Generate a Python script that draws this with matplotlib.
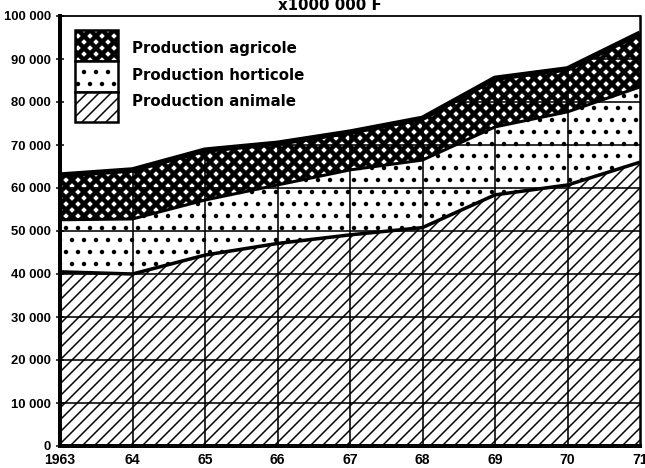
import numpy as np
import matplotlib
matplotlib.use('Agg')
import matplotlib.pyplot as plt
from matplotlib.patches import Rectangle

# values in x1000 000 F
years = [1963, 1964, 1965, 1966, 1967, 1968, 1969, 1970, 1971]
year_labels = ['1963', '64', '65', '66', '67', '68', '69', '70', '71']
animale = [40500, 40000, 44400, 47100, 49100, 50800, 58400, 60700, 66000]
horticole = [12100, 12800, 12800, 13600, 15100, 15700, 15800, 17000, 17500]
agricole = [10400, 11400, 11600, 9700, 8800, 9700, 11300, 10000, 12500]
yticks = [0, 10000, 20000, 30000, 40000, 50000, 60000, 70000, 80000, 90000, 100000]

labels = ['Production agricole', 'Production horticole', 'Production animale']

tick_font = ['Liberation Sans', 'DejaVu Sans']

x = np.array(years)
a = np.array(animale)
h = a + np.array(horticole)
t = h + np.array(agricole)


def hatch_lw(artist, lw):
    # per-artist hatch width where the matplotlib version allows it
    if hasattr(artist, 'set_hatch_linewidth'):
        artist.set_hatch_linewidth(lw)


fig = plt.figure(figsize=(645 / 72, 468 / 72), dpi=72)
ax = fig.add_axes([60 / 645, 1 - 446 / 468, 580 / 645, 430 / 468])

p1 = ax.fill_between(x, 0, a, facecolor='white', edgecolor='black',
                     hatch='//', linewidth=0, zorder=1)
hatch_lw(p1, 1.5)
p2 = ax.fill_between(x, a, h, facecolor='white', edgecolor='black',
                     hatch='.', linewidth=0, zorder=1)
hatch_lw(p2, 2.0)
p3 = ax.fill_between(x, h, t, facecolor='white', edgecolor='black',
                     hatch='xx', linewidth=0, zorder=1)
hatch_lw(p3, 4.5)

# grid only inside the coloured area
clip = ax.fill_between(x, 0, t, facecolor='none', linewidth=0)
for yv in yticks[1:]:
    ln = ax.axhline(yv, color='black', lw=1.6, zorder=2)
    ln.set_clip_path(clip.get_paths()[0], ax.transData)
for xv in years[1:-1]:
    ln = ax.axvline(xv, color='black', lw=1.6, zorder=2)
    ln.set_clip_path(clip.get_paths()[0], ax.transData)

ax.plot(x, a, color='black', lw=3.5, zorder=3, solid_capstyle='butt')
ax.plot(x, h, color='black', lw=3, zorder=3, solid_capstyle='butt')
ax.plot(x, t, color='black', lw=5.5, zorder=3, solid_capstyle='butt')

ax.set_xlim(1963, 1971)
ax.set_ylim(0, 100000)
ax.set_xticks(years)
ax.set_xticklabels(year_labels, family=tick_font, fontweight='bold', fontsize=14)
ax.set_yticks(yticks)
ax.set_yticklabels([f'{v:,}'.replace(',', ' ') for v in yticks],
                   family=tick_font, fontweight='bold', fontsize=13)
ax.tick_params(axis='x', length=0, pad=7)
ax.tick_params(axis='y', direction='inout', length=8, width=1.5, pad=5)

for side, lw in [('left', 4), ('bottom', 4), ('right', 2.5), ('top', 1.8)]:
    ax.spines[side].set_linewidth(lw)
    ax.spines[side].set_zorder(4)

# legend: stacked swatches in one box
tr = ax.transAxes


def ax_xy(px, py):
    return ((px - 60) / 580, (446 - py) / 430)


swatches = [('xx', 4.5), ('.', 2.0), ('//', 1.5)]
tops = [30, 61, 92, 122]
for i, (hat, lw) in enumerate(swatches):
    x0, y0 = ax_xy(75, tops[i + 1])
    w = 43 / 580
    hgt = (tops[i + 1] - tops[i]) / 430
    r = Rectangle((x0, y0), w, hgt, transform=tr, facecolor='white',
                  edgecolor='black', hatch=hat, linewidth=2.5, zorder=5)
    hatch_lw(r, lw)
    ax.add_patch(r)

text_y = [48, 76, 101]
for lab, py in zip(labels, text_y):
    tx, ty = ax_xy(132, py)
    ax.text(tx, ty, lab, transform=tr, fontsize=15, fontweight='bold',
            va='center', ha='left', zorder=5)

fig.text(330 / 645, 1 - 10 / 468, 'x1000 000 F', fontsize=15,
         fontweight='bold', ha='center', va='baseline')

fig.savefig('out.png', dpi=72)
